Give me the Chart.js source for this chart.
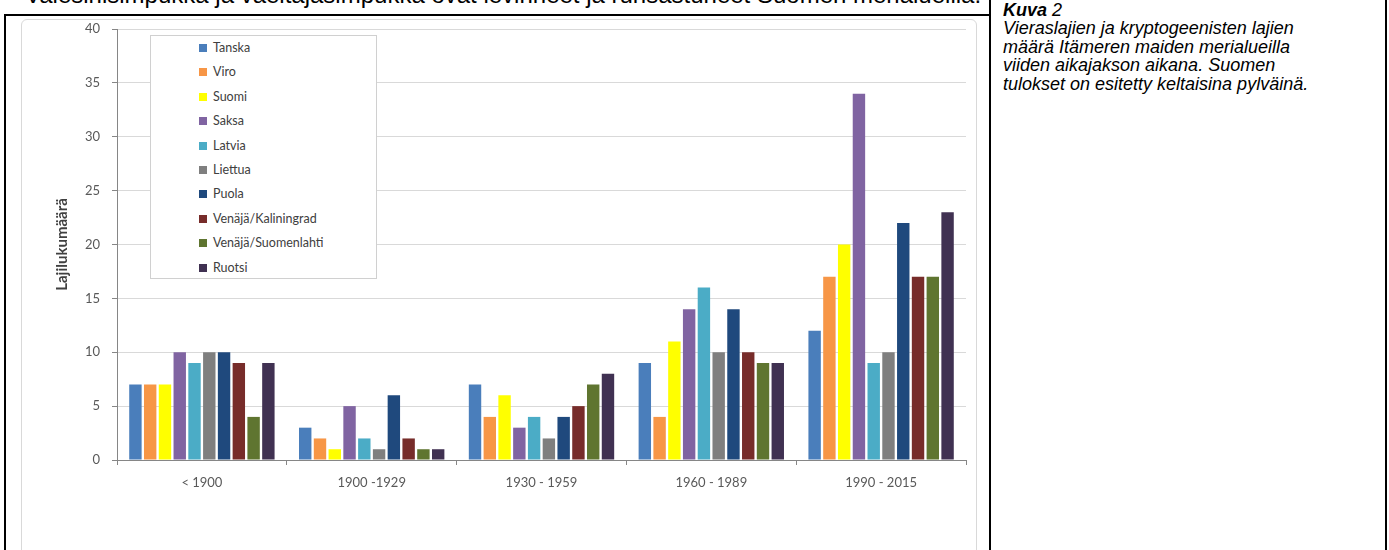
<!DOCTYPE html>
<html lang="fi">
<head>
<meta charset="UTF-8" />
<title>Vieraslajit Itämerellä</title>
<style>
  html, body { margin: 0; padding: 0; background: #fff; }
  body { width: 1389px; height: 550px; position: relative; overflow: hidden; font-family: "Liberation Sans", Arial, sans-serif; }
  #toptext { position: absolute; left: 25px; top: -17px; font-size: 24px; line-height: 24px; color: #000; white-space: nowrap; }
  .line { position: absolute; background: #000; }
  #chartbox { position: absolute; left: 21px; top: 19px; width: 954px; height: 560px; border: 1px solid #d9d9d9; border-radius: 6px; }
  #chart-container { position: absolute; left: 0; top: 0; width: 980px; height: 550px; }
  #legend { position: absolute; left: 150px; top: 35px; width: 227px; height: 244px; border: 1px solid #d0d0d0; background: #fff; box-sizing: border-box; padding-top: 4px; font-family: Lato, sans-serif; font-size: 12.5px; color: #404040; }
  #legend div { height: 24.4px; line-height: 16px; padding-left: 48px; white-space: nowrap; }
  #legend span { display: inline-block; width: 8px; height: 8px; margin-right: 6px; vertical-align: 0px; }
  #caption { position: absolute; left: 1003px; top: 1px; font-size: 18px; line-height: 18.4px; font-style: italic; color: #000; white-space: nowrap; }
</style>
<script src="https://cdn.jsdelivr.net/npm/chart.js"></script>
</head>
<body>
<div id="toptext">Valesinisimpukka ja vaeltajasimpukka ovat levinneet ja runsastuneet Suomen merialueilla.</div>
<div class="line" style="left:4px; top:14px; width:986px; height:2px;"></div>
<div class="line" style="left:4px; top:14px; width:2px; height:540px;"></div>
<div class="line" style="left:989px; top:0px; width:2px; height:550px;"></div>
<div class="line" style="left:1385px; top:0px; width:2px; height:550px;"></div>
<div id="chartbox"></div>
<div id="chart-container"><canvas id="lajiChart"></canvas></div>
<div id="legend"></div>
<div id="caption"><b>Kuva</b> 2<br>Vieraslajien ja kryptogeenisten lajien<br>määrä Itämeren maiden merialueilla<br>viiden aikajakson aikana. Suomen<br>tulokset on esitetty keltaisina pylväinä.</div>

<script>
  const periods = ["< 1900", "1900 -1929", "1930 - 1959", "1960 - 1989", "1990 - 2015"];
  const yTicks = [0, 5, 10, 15, 20, 25, 30, 35, 40];

  const tanska      = [7, 3, 7, 9, 12];
  const viro        = [7, 2, 4, 4, 17];
  const suomi       = [7, 1, 6, 11, 20];
  const saksa       = [10, 5, 3, 14, 34];
  const latvia      = [9, 2, 4, 16, 9];
  const liettua     = [10, 1, 2, 10, 10];
  const puola       = [10, 6, 4, 14, 22];
  const kaliningrad = [9, 2, 5, 10, 17];
  const suomenlahti = [4, 1, 7, 9, 17];
  const ruotsi      = [9, 1, 8, 9, 23];

  const series = [
    ["Tanska", tanska, "#4a7ebb"],
    ["Viro", viro, "#f79646"],
    ["Suomi", suomi, "#ffff00"],
    ["Saksa", saksa, "#8064a2"],
    ["Latvia", latvia, "#4bacc6"],
    ["Liettua", liettua, "#7f7f7f"],
    ["Puola", puola, "#1f497d"],
    ["Venäjä/Kaliningrad", kaliningrad, "#772c2a"],
    ["Venäjä/Suomenlahti", suomenlahti, "#5f7530"],
    ["Ruotsi", ruotsi, "#403152"]
  ];

  const datasets = series.map(([name, values, color]) => ({
    label: name,
    data: values,
    backgroundColor: color,
    borderWidth: 0,
    categoryPercentage: 0.87,
    barPercentage: 0.84
  }));

  // legend as html, boxed inside the plot like in the original
  const legendEl = document.getElementById("legend");
  datasets.forEach((ds) => {
    const row = document.createElement("div");
    const sw = document.createElement("span");
    sw.style.background = ds.backgroundColor;
    row.appendChild(sw);
    row.appendChild(document.createTextNode(ds.label));
    legendEl.appendChild(row);
  });

  const tickFont = { family: "Lato", size: 13 };

  new Chart(document.getElementById("lajiChart"), {
    type: "bar",
    data: { labels: periods, datasets: datasets },
    options: {
      responsive: true,
      maintainAspectRatio: false,
      animation: false,
      layout: { padding: { left: 50, top: 29, right: 14, bottom: 50 } },
      plugins: { legend: { display: false }, tooltip: { enabled: false } },
      scales: {
        x: {
          afterFit: (s) => { s.height = 40; },
          grid: { offset: true, drawOnChartArea: false, tickLength: 5, tickColor: "#868686" },
          border: { color: "#868686" },
          ticks: { color: "#595959", font: tickFont, padding: 10 }
        },
        y: {
          min: 0,
          max: 40,
          afterFit: (s) => { s.width = 67; },
          afterBuildTicks: (s) => { s.ticks = yTicks.map((v) => ({ value: v })); },
          grid: { color: "#d9d9d9", tickLength: 5, tickColor: "#868686" },
          border: { color: "#868686" },
          ticks: { color: "#595959", font: tickFont, padding: 12 },
          title: {
            display: true,
            text: "Lajilukumäärä",
            color: "#404040",
            font: { family: "Lato", size: 15, weight: "bold" },
            padding: { top: 3, bottom: 3 }
          }
        }
      }
    }
  });
</script>
</body>
</html>
